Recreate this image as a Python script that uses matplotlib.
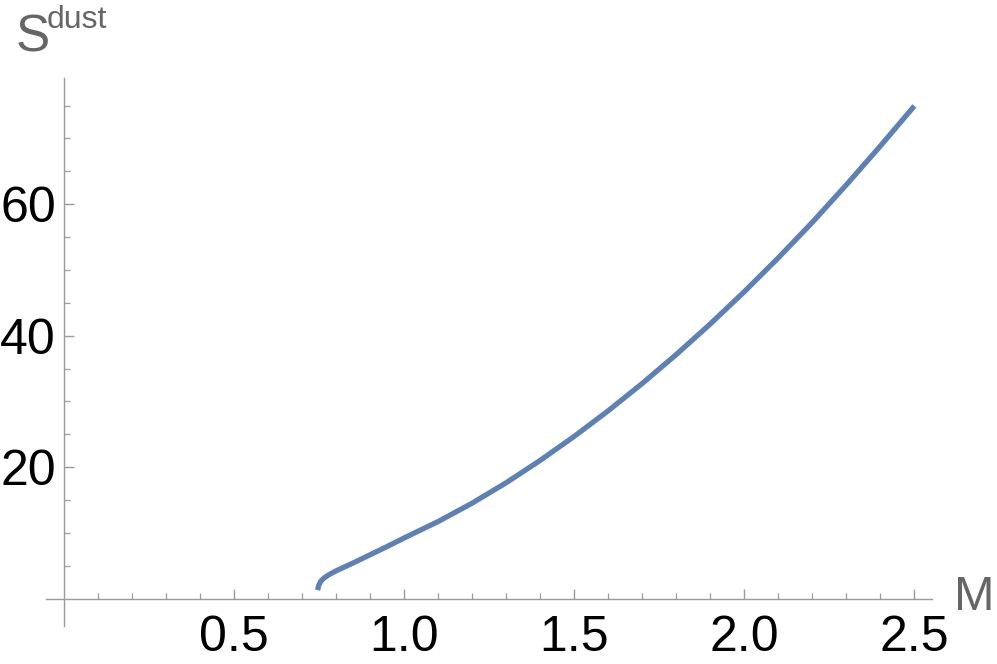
import matplotlib
matplotlib.use("Agg")
import matplotlib.pyplot as plt
from matplotlib.ticker import FixedLocator

# Data
M = [0.745, 0.748, 0.755, 0.765, 0.78, 0.80, 0.85, 0.90, 0.95, 1.0, 1.1, 1.2,
     1.3, 1.4, 1.5, 1.6, 1.7, 1.8, 1.9, 2.0, 2.1, 2.2, 2.3, 2.4, 2.5]
S_dust = [1.3, 2.0, 2.7, 3.2, 3.7, 4.25, 5.45, 6.7, 7.95, 9.25, 11.75, 14.55,
          17.65, 21.05, 24.7, 28.6, 32.75, 37.15, 41.8, 46.7, 51.85, 57.25,
          62.95, 68.85, 74.95]
x_major = [0.5, 1.0, 1.5, 2.0, 2.5]
x_labels = ["0.5", "1.0", "1.5", "2.0", "2.5"]
x_minor = [0.1, 0.2, 0.3, 0.4, 0.6, 0.7, 0.8, 0.9, 1.1, 1.2, 1.3, 1.4, 1.6,
           1.7, 1.8, 1.9, 2.1, 2.2, 2.3, 2.4]
y_major = [20, 40, 60]
y_labels = ["20", "40", "60"]
y_minor = [5, 10, 15, 25, 30, 35, 45, 50, 55, 65, 70, 75]

plt.rcParams['font.family'] = ['Liberation Sans', 'DejaVu Sans']

fig = plt.figure(figsize=(9.97, 6.64), dpi=100)
ax = fig.add_axes([0, 0, 1, 1])
ax.set_xlim(-0.189, 2.743)
ax.set_ylim(-9.93, 91.06)

ax.plot(M, S_dust, color='#5E81B5', lw=3.8, solid_capstyle='butt',
        solid_joinstyle='round')

axis_col = '#9a9a9a'
for s in ['top', 'right']:
    ax.spines[s].set_visible(False)
for s in ['left', 'bottom']:
    ax.spines[s].set_position(('data', 0))
    ax.spines[s].set_color(axis_col)
    ax.spines[s].set_linewidth(1.0)
ax.spines['bottom'].set_bounds(-0.054, 2.552)
ax.spines['left'].set_bounds(-4.15, 79.2)

ax.xaxis.set_major_locator(FixedLocator(x_major))
ax.set_xticklabels(x_labels)
ax.xaxis.set_minor_locator(FixedLocator(x_minor))
ax.yaxis.set_major_locator(FixedLocator(y_major))
ax.set_yticklabels(y_labels)
ax.yaxis.set_minor_locator(FixedLocator(y_minor))

ax.tick_params(axis='both', which='major', direction='in', length=7.5, width=1.0,
               color=axis_col, labelsize=36, labelcolor='black')
ax.tick_params(axis='both', which='minor', direction='in', length=4.5, width=0.9,
               color=axis_col)
ax.tick_params(axis='x', which='major', pad=12)
ax.tick_params(axis='y', which='major', pad=6)

# axis labels
fig.text(954 / 997, 1 - 598 / 664, "M", fontsize=35, color='#666666',
         ha='left', va='center')
fig.text(16 / 997, 1 - 52 / 664, "S", fontsize=37, color='#666666',
         ha='left', va='baseline')
fig.text(47 / 997, 1 - 28 / 664, "dust", fontsize=23, color='#666666',
         ha='left', va='baseline')

fig.savefig("out.png", dpi=100)
